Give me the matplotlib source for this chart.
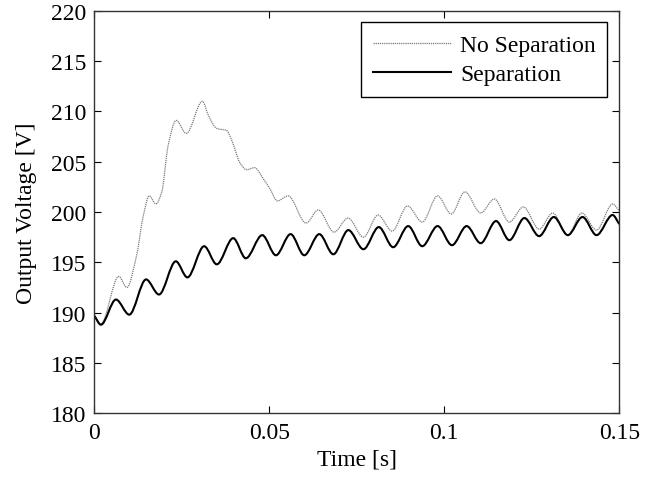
import matplotlib.pyplot as plt
import numpy as np
from matplotlib.path import Path
from matplotlib.patches import PathPatch
from matplotlib.lines import Line2D

plt.rcParams['font.family'] = ['Liberation Serif', 'DejaVu Serif']

# values (peaks, troughs and a few in-between points)
t_sep = [0.0, 0.0019, 0.0062, 0.0100, 0.0148, 0.0185, 0.0233, 0.0266, 0.0314,
         0.0350, 0.0397, 0.0433, 0.0480, 0.0519, 0.0561, 0.0600, 0.0643, 0.0683,
         0.0726, 0.0769, 0.0813, 0.0854, 0.0897, 0.0937, 0.0981, 0.1022, 0.1064,
         0.1104, 0.1148, 0.1186, 0.1229, 0.1271, 0.1313, 0.1353, 0.1395, 0.1435,
         0.1481, 0.1500]
v_sep = [189.7, 188.8, 191.3, 189.8, 193.3, 191.8, 195.1, 193.5, 196.6,
         194.8, 197.4, 195.4, 197.7, 195.7, 197.8, 195.7, 197.8, 195.8,
         198.2, 196.3, 198.5, 196.5, 198.6, 196.6, 198.6, 196.7, 198.6,
         196.9, 199.1, 197.2, 199.4, 197.6, 199.5, 197.7, 199.5, 197.7,
         199.7, 198.8]

t_nosep = [0.0, 0.0019, 0.0070, 0.0093, 0.0121, 0.0140, 0.0157, 0.0176, 0.0193,
           0.0211, 0.0234, 0.0263, 0.0309, 0.0326, 0.0350, 0.0378, 0.0393, 0.0416,
           0.0435, 0.0458, 0.0483, 0.0502, 0.0523, 0.0554, 0.0605, 0.0640, 0.0685,
           0.0725, 0.0769, 0.0811, 0.0851, 0.0895, 0.0937, 0.0981, 0.1020, 0.1059,
           0.1104, 0.1143, 0.1186, 0.1226, 0.1271, 0.1310, 0.1353, 0.1393, 0.1435,
           0.1481, 0.1500]
v_nosep = [189.7, 188.9, 193.6, 192.5, 195.7, 199.6, 201.6, 200.8, 202.0,
           206.6, 209.1, 207.8, 211.0, 209.6, 208.3, 208.1, 207.1, 204.9,
           204.2, 204.4, 203.3, 202.3, 201.1, 201.6, 198.9, 200.2, 198.0,
           199.4, 197.5, 199.7, 198.1, 200.6, 199.0, 201.6, 199.8, 202.0,
           199.9, 201.3, 199.0, 200.5, 198.3, 199.9, 197.7, 199.9, 198.2,
           200.8, 200.1]


def smooth_path(x, y):
    # monotone cubic (pchip style) bezier through the read points
    x = np.asarray(x, float)
    y = np.asarray(y, float)
    h = np.diff(x)
    d = np.diff(y) / h
    m = np.zeros(len(x))
    m[0], m[-1] = d[0], d[-1]
    for k in range(1, len(x) - 1):
        if d[k - 1] * d[k] > 0:
            w1 = 2 * h[k] + h[k - 1]
            w2 = h[k] + 2 * h[k - 1]
            m[k] = (w1 + w2) / (w1 / d[k - 1] + w2 / d[k])
    verts = [(x[0], y[0])]
    codes = [Path.MOVETO]
    for i in range(len(h)):
        verts += [(x[i] + h[i] / 3, y[i] + m[i] * h[i] / 3),
                  (x[i + 1] - h[i] / 3, y[i + 1] - m[i + 1] * h[i] / 3),
                  (x[i + 1], y[i + 1])]
        codes += [Path.CURVE4] * 3
    return Path(verts, codes)


fig = plt.figure(figsize=(6.56, 4.85), dpi=100)
ax = fig.add_axes([0.1437, 0.1458, 0.8003, 0.8301])

grey_ls = (0, (1, 0.7))
ax.add_patch(PathPatch(smooth_path(t_nosep, v_nosep), fill=False,
                       edgecolor='#7a7a7a', linewidth=0.9, linestyle=grey_ls))
ax.add_patch(PathPatch(smooth_path(t_sep, v_sep), fill=False,
                       edgecolor='black', linewidth=1.5))

ax.set_xlim(0, 0.15)
ax.set_ylim(180, 220)
ax.set_xticks([0, 0.05, 0.1, 0.15])
ax.set_xticklabels(['0', '0.05', '0.1', '0.15'])
ax.set_yticks(np.arange(180, 221, 5))

ax.tick_params(direction='in', top=True, right=True, length=5, width=0.8,
               labelsize=17, pad=6)
for s in ax.spines.values():
    s.set_linewidth(1.0)
    s.set_color('#333333')

ax.set_xlabel('Time [s]', fontsize=17, labelpad=4)
ax.set_ylabel('Output Voltage [V]', fontsize=17, labelpad=10)

handles = [Line2D([], [], color='#7a7a7a', lw=0.9, ls=grey_ls),
           Line2D([], [], color='black', lw=1.5)]
leg = ax.legend(handles, ['No Separation', 'Separation'], loc='upper right',
                fontsize=17, fancybox=False, framealpha=1, edgecolor='black',
                borderaxespad=0.5, handlelength=3.3, handletextpad=0.4,
                labelspacing=0.32, borderpad=0.5)
leg.get_frame().set_linewidth(1.0)

fig.savefig('out.png', dpi=100)
